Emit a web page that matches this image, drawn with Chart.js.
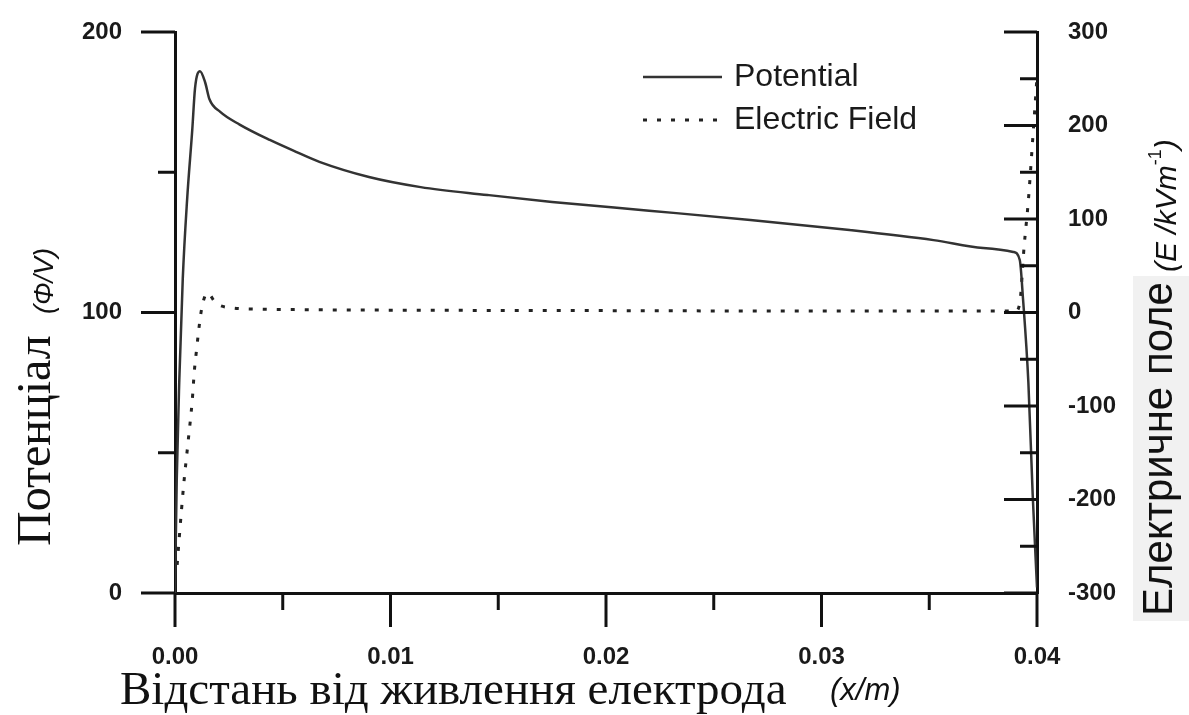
<!DOCTYPE html>
<html>
<head>
<meta charset="utf-8">
<script src="https://cdn.jsdelivr.net/npm/chart.js@4.4.1/dist/chart.umd.min.js"></script>
<style>
  html, body { margin: 0; padding: 0; background: #fff; }
  #wrap { width: 1189px; height: 715px; position: relative; }
</style>
</head>
<body>
<div id="wrap"><canvas id="myChart"></canvas></div>
<script>
// potential along the gap, x in metres, volts
const potentialX = [0, 0.00008, 0.0002, 0.00036, 0.00056, 0.0008, 0.00093, 0.00116, 0.0014, 0.0016, 0.0021,
  0.003, 0.0044, 0.0057, 0.0067, 0.009, 0.0114, 0.0145, 0.0175, 0.022, 0.0267, 0.0313, 0.0352, 0.0375,
  0.0389, 0.0392, 0.03935, 0.0396, 0.0398, 0.04];
const potentialV = [0, 40, 76, 112, 140, 165, 180, 186, 182, 176, 171.5,
  167, 161.5, 157, 153.7, 148.3, 144.7, 141.9, 139.4, 136.3, 133, 129.4, 125.8, 123,
  121.6, 118.7, 105, 75, 35, 2];

// electric field, kV/m
const fieldX = [0.0001, 0.0002, 0.0004, 0.0006, 0.0008, 0.0009, 0.001, 0.0011, 0.0012, 0.0013, 0.0015,
  0.0019, 0.0026, 0.004, 0.006, 0.01, 0.02, 0.03, 0.039, 0.0392, 0.0394, 0.0396, 0.0398, 0.04];
const fieldE = [-270, -240, -185, -140, -94, -62, -40, -19, -1, 11, 21,
  10, 5, 3.5, 3, 2.5, 2, 1.5, 1.5, 10, 70, 120, 185, 252];

const xMinorTicks = [0.005, 0.015, 0.025, 0.035];
const leftMinorTicks = [50, 150];
const rightMinorTicks = [-250, -150, -50, 50, 150, 250];

const legendLabels = ['Potential', 'Electric Field'];

const toPoints = (xs, ys) => xs.map((x, i) => ({ x: x, y: ys[i] }));

const INK = '#111';
const SANS = '"Liberation Sans", Arial, sans-serif';
const SERIF = '"Liberation Serif", "Times New Roman", serif';

// tick marks: outward on the left and bottom, inward on the right
const tickMarks = {
  id: 'tickMarks',
  afterDraw(chart) {
    const { ctx, chartArea: a, scales } = chart;
    ctx.save();
    ctx.strokeStyle = INK;
    ctx.lineWidth = 3;
    const hor = (y, x0, x1) => { ctx.beginPath(); ctx.moveTo(x0, y); ctx.lineTo(x1, y); ctx.stroke(); };
    const ver = (x, y0, y1) => { ctx.beginPath(); ctx.moveTo(x, y0); ctx.lineTo(x, y1); ctx.stroke(); };

    scales.x.ticks.forEach(t => ver(scales.x.getPixelForValue(t.value), a.bottom, a.bottom + 34));
    xMinorTicks.forEach(v => ver(scales.x.getPixelForValue(v), a.bottom, a.bottom + 17));

    scales.y.ticks.forEach(t => hor(scales.y.getPixelForValue(t.value), a.left - 34, a.left));
    leftMinorTicks.forEach(v => hor(scales.y.getPixelForValue(v), a.left - 17, a.left));

    scales.y1.ticks.forEach(t => hor(scales.y1.getPixelForValue(t.value), a.right - 33, a.right));
    rightMinorTicks.forEach(v => hor(scales.y1.getPixelForValue(v), a.right - 17, a.right));
    ctx.restore();
  }
};

// legend drawn inside the plot, upper right
const innerLegend = {
  id: 'innerLegend',
  afterDraw(chart) {
    const { ctx } = chart;
    ctx.save();
    chart.data.datasets.forEach((ds, i) => {
      const y = 77 + i * 43;
      ctx.beginPath();
      ctx.strokeStyle = ds.borderColor;
      ctx.lineWidth = ds.borderWidth;
      ctx.setLineDash(ds.borderDash || []);
      ctx.moveTo(643, y);
      ctx.lineTo(722, y);
      ctx.stroke();
      ctx.setLineDash([]);
      ctx.fillStyle = '#1a1a1a';
      ctx.font = '32px ' + SANS;
      ctx.textBaseline = 'middle';
      ctx.textAlign = 'left';
      ctx.fillText(ds.label, 734, y);
    });
    ctx.restore();
  }
};

// axis titles mix a serif caption with a sans italic unit
const axisTitles = {
  id: 'axisTitles',
  beforeDraw(chart) {
    const { ctx } = chart;
    ctx.save();
    ctx.fillStyle = '#f1f1f1';
    ctx.fillRect(1133, 276, 56, 345);
    ctx.restore();
  },
  afterDraw(chart) {
    const { ctx } = chart;
    ctx.save();
    ctx.fillStyle = '#111';
    ctx.textAlign = 'left';
    ctx.textBaseline = 'alphabetic';

    const vertical = (text, font, x, y) => {
      ctx.save();
      ctx.translate(x, y);
      ctx.rotate(-Math.PI / 2);
      ctx.font = font;
      ctx.fillText(text, 0, 0);
      const w = ctx.measureText(text).width;
      ctx.restore();
      return w;
    };

    vertical('Потенціал', '48px ' + SERIF, 50, 546);
    vertical('(Φ/V)', 'italic 27px ' + SANS, 53, 314);

    vertical('Електричне поле', '42px ' + SANS, 1172, 616);
    let y = 272;
    y -= vertical('(E /kVm', 'italic 30px ' + SANS, 1176, y);
    y -= vertical('-1', '18px ' + SANS, 1161, y);
    vertical(')', 'italic 30px ' + SANS, 1176, y);

    ctx.font = '47px ' + SERIF;
    ctx.fillText('Відстань від живлення електрода', 120, 704);
    ctx.font = 'italic 31px ' + SANS;
    ctx.fillText('(x/m)', 830, 700);
    ctx.restore();
  }
};

const tickFont = { family: SANS, size: 24, weight: 'bold' };

// the built-in tick marks are hidden; their length only spaces the labels
const hiddenGrid = (len) => ({
  display: true,
  drawOnChartArea: false,
  drawTicks: true,
  tickLength: len,
  tickColor: 'rgba(0,0,0,0)',
});

const ctx = document.querySelector('#myChart').getContext('2d');

const myChart = new Chart(ctx, {
  type: 'line',
  data: {
    datasets: [{
      label: legendLabels[0],
      data: toPoints(potentialX, potentialV),
      yAxisID: 'y',
      borderColor: '#333',
      borderWidth: 2.5,
      pointRadius: 0,
      cubicInterpolationMode: 'monotone',
      fill: false,
    }, {
      label: legendLabels[1],
      data: toPoints(fieldX, fieldE),
      yAxisID: 'y1',
      borderColor: '#222',
      borderWidth: 3,
      borderDash: [4, 10],
      pointRadius: 0,
      cubicInterpolationMode: 'monotone',
      fill: false,
    }],
  },
  options: {
    responsive: true,
    maintainAspectRatio: false,
    animation: false,
    layout: { padding: { top: 32, left: 0, right: 0, bottom: 0 } },
    plugins: {
      legend: { display: false },
      tooltip: { enabled: false },
    },
    scales: {
      x: {
        type: 'linear',
        min: 0,
        max: 0.04,
        grid: hiddenGrid(48),
        border: { display: true, color: INK, width: 3 },
        ticks: {
          stepSize: 0.01,
          padding: 2,
          color: '#1a1a1a',
          font: tickFont,
          callback: v => v.toFixed(2),
        },
        afterFit: s => { s.height = 122; },
      },
      y: {
        position: 'left',
        min: 0,
        max: 200,
        grid: hiddenGrid(50),
        border: { display: true, color: INK, width: 3 },
        ticks: { stepSize: 100, padding: 3, color: '#1a1a1a', font: tickFont },
        afterFit: s => { s.width = 175; },
      },
      y1: {
        position: 'right',
        min: -300,
        max: 300,
        grid: hiddenGrid(28),
        border: { display: true, color: INK, width: 3 },
        ticks: { stepSize: 100, padding: 3, color: '#1a1a1a', font: tickFont },
        afterFit: s => { s.width = 152; },
      },
    },
  },
  plugins: [axisTitles, tickMarks, innerLegend],
});
</script>
</body>
</html>
